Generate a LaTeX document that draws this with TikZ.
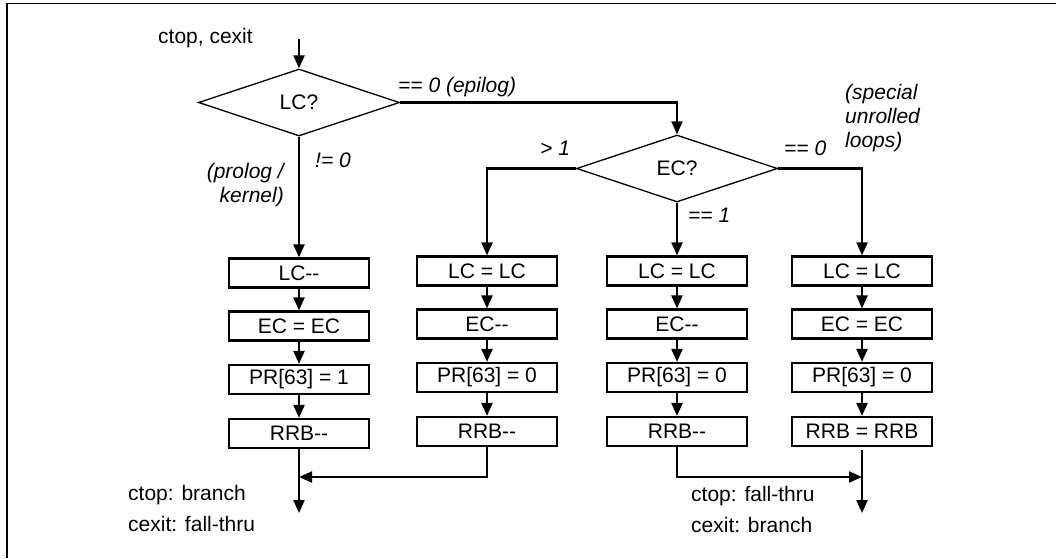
\documentclass[tikz,border=0pt]{standalone}
\usepackage{fontspec}
\setmainfont{Liberation Sans}[Ligatures=TeXOff]
\usetikzlibrary{shapes.geometric,arrows.meta}
\begin{document}
\begin{tikzpicture}[x=1pt,y=-1pt,
  every node/.style={font=\fontsize{21}{24}\selectfont, inner sep=0pt},
  dec/.style={diamond, draw, line width=1.3pt, minimum width=201pt, minimum height=67pt},
  opbox/.style={draw, line width=2.2pt, minimum width=140pt, minimum height=29pt},
  arr/.style={line width=2.2pt, -{Triangle[length=13pt,width=11pt]}},
  lbl/.style={font=\fontsize{21}{24}\selectfont\itshape},
]
\useasboundingbox (0,0) rectangle (1056,558);
% frame
\draw[line width=1.6pt] (1056,3.5) -- (7,3.5) -- (7,558);

\coordinate (in) at (299,39);
\node[anchor=base west] (tin) at (158,43) {ctop, cexit};
\node[dec] (lc) at (299,102.5) {LC?};
\node[dec] (ec) at (677,168.5) {EC?};

% column 1
\node[opbox] (b11) at (299,273) {LC--};
\node[opbox] (b12) at (299,326) {EC = EC};
\node[opbox] (b13) at (299,379.5) {PR[63] = 1};
\node[opbox] (b14) at (299,433.5) {RRB--};
% column 2
\node[opbox] (b21) at (487,271) {LC = LC};
\node[opbox] (b22) at (487,324) {EC--};
\node[opbox] (b23) at (487,377.5) {PR[63] = 0};
\node[opbox] (b24) at (487,431.5) {RRB--};
% column 3
\node[opbox] (b31) at (677,271) {LC = LC};
\node[opbox] (b32) at (677,324) {EC--};
\node[opbox] (b33) at (677,377.5) {PR[63] = 0};
\node[opbox] (b34) at (677,431.5) {RRB--};
% column 4
\node[opbox] (b41) at (862,271) {LC = LC};
\node[opbox] (b42) at (862,324) {EC = EC};
\node[opbox] (b43) at (862,377.5) {PR[63] = 0};
\node[opbox] (b44) at (862,431.5) {RRB = RRB};

\coordinate (m1) at (299,477);
\coordinate (o1) at (299,513);
\coordinate (m2) at (862,477);
\coordinate (o2) at (862,513);

% connectors
\draw[arr] (in) -- (lc.north);
\draw[arr] (lc.east) -| (ec.north);
\draw[arr] (lc.south) -- (b11.north);
\draw[arr] (ec.west) -| (b21.north);
\draw[arr] (ec.south) -- (b31.north);
\draw[arr] (ec.east) -| (b41.north);
\foreach \c in {1,2,3,4}{
  \draw[arr] (b\c1.south) -- (b\c2.north);
  \draw[arr] (b\c2.south) -- (b\c3.north);
  \draw[arr] (b\c3.south) -- (b\c4.north);
}
\draw[arr] (b14.south) -- (o1);
\draw[arr] (b24.south) |- (m1);
\draw[arr] (b34.south) |- (m2);
\draw[arr, shorten <=3pt] (b44.south) -- (o2);

% labels (base anchor of multi-line nodes = last line)
\node[lbl, anchor=base west] (t1) at (398,92) {== 0 (epilog)};
\node[lbl, anchor=base west] (t2) at (315,167) {!= 0};
\node[lbl, anchor=base east, align=right] (t3) at (284,202) {(prolog /\\kernel)};
\node[lbl, anchor=base west] (t4) at (540,155) {> 1};
\node[lbl, anchor=base west] (t5) at (784,155) {== 0};
\node[lbl, anchor=base west] (t6) at (688,222) {== 1};
\node[lbl, anchor=base west, align=left] (t7) at (845,147) {(special\\unrolled\\loops)};
\node[anchor=base west, align=left] (t8) at (128,531) {ctop: branch\\[7pt]cexit: fall-thru};
\node[anchor=base west, align=left] (t9) at (691,532) {ctop: fall-thru\\[7pt]cexit: branch};
\end{tikzpicture}
\end{document}
